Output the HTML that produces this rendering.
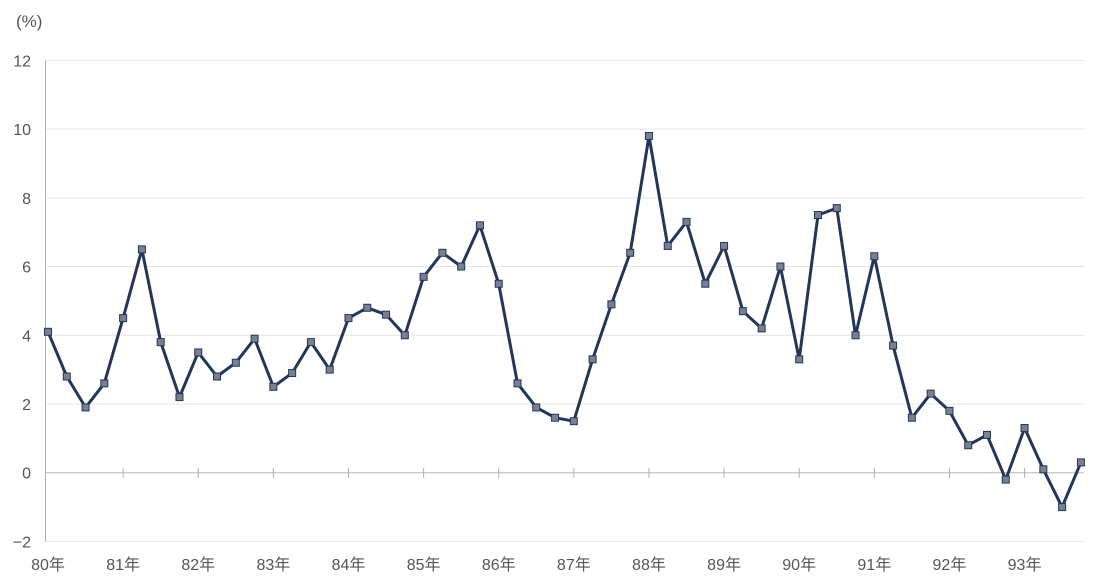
<!DOCTYPE html>
<html><head><meta charset="utf-8"><style>
html,body{margin:0;padding:0;background:#fff;}
svg{display:block;font-family:"Liberation Sans","Noto Sans CJK JP",sans-serif;}
</style></head><body>
<svg id="c" width="1096" height="583" viewBox="0 0 1096 583" xmlns="http://www.w3.org/2000/svg">
<text x="16" y="27" font-size="17" fill="#555">(%)</text>
<g id="grid"></g>
<g id="lab"></g>
<polyline id="ln" fill="none" stroke="#233659" stroke-width="3" stroke-linejoin="round"/>
<g id="mk"></g>
</svg>
<script>
var d=[4.1,2.8,1.9,2.6,4.5,6.5,3.8,2.2,3.5,2.8,3.2,3.9,2.5,2.9,3.8,3.0,4.5,4.8,4.6,4.0,5.7,6.4,6.0,7.2,5.5,2.6,1.9,1.6,1.5,3.3,4.9,6.4,9.8,6.6,7.3,5.5,6.6,4.7,4.2,6.0,3.3,7.5,7.7,4.0,6.3,3.7,1.6,2.3,1.8,0.8,1.1,-0.2,1.3,0.1,-1.0,0.3];
var NS="http://www.w3.org/2000/svg";
function Y(v){return 472.7-v*34.36;}
function X(i){return 48+i*18.78;}
function el(t,a,p,txt){var e=document.createElementNS(NS,t);for(var k in a)e.setAttribute(k,a[k]);if(txt!=null)e.textContent=txt;document.getElementById(p).appendChild(e);return e;}
for(var v=-2;v<=12;v+=2){
  var y=Y(v);
  el('line',{x1:45,x2:1084,y1:y,y2:y,stroke:v==0?'#b8b8b8':'#e4e4e4','stroke-width':1},'grid');
  el('text',{x:31,y:y+6,'font-size':16,fill:'#555','text-anchor':'end'},'lab',v<0?'\u2212'+(-v):String(v));
}
el('line',{x1:45.5,x2:45.5,y1:Y(12),y2:Y(-2),stroke:'#b0b0b0','stroke-width':1},'grid');
for(var k=0;k<14;k++){
  var x=X(k*4);
  if(k>0)el('line',{x1:x,x2:x,y1:Y(0)-5,y2:Y(0)+5,stroke:'#b0b0b0','stroke-width':1},'grid');
  el('text',{x:x,y:570,'font-size':16,fill:'#555','text-anchor':'middle'},'lab',(80+k)+'年');
}
var pts=d.map(function(v,i){return X(i).toFixed(1)+','+Y(v).toFixed(1);}).join(' ');
document.getElementById('ln').setAttribute('points',pts);
d.forEach(function(v,i){el('rect',{x:X(i)-3.5,y:Y(v)-3.5,width:7,height:7,fill:'#7a8090',stroke:'#233659','stroke-width':1},'mk');});
</script>
</body></html>
